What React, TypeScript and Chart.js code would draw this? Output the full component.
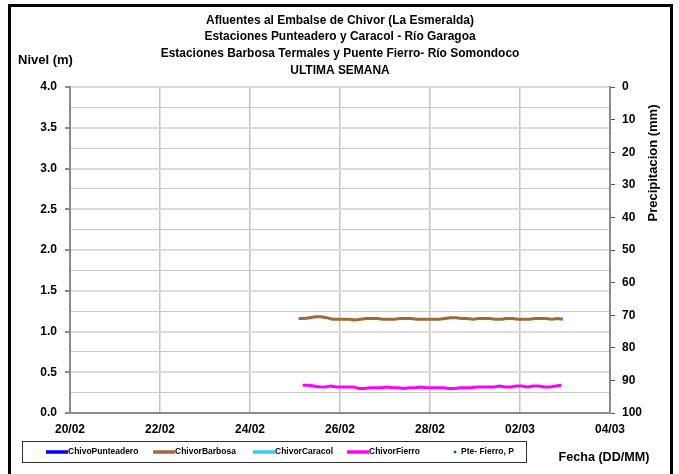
import React, { useEffect, useRef } from "react";
import { Chart, registerables } from "chart.js";
Chart.register(...registerables);

// ---- data ----
const titleLines = [
  "Afluentes al Embalse de Chivor (La Esmeralda)",
  "Estaciones Punteadero y Caracol - Río Garagoa",
  "Estaciones Barbosa Termales y Puente Fierro- Río Somondoco",
  "ULTIMA SEMANA",
];
const dateLabels = ["20/02", "22/02", "24/02", "26/02", "28/02", "02/03", "04/03"];
const nivelTickLabels = ["0.0", "0.5", "1.0", "1.5", "2.0", "2.5", "3.0", "3.5", "4.0"];
const precipTickLabels = ["0", "10", "20", "30", "40", "50", "60", "70", "80", "90", "100"];
const seriesNames = ["ChivoPunteadero", "ChivorBarbosa", "ChivorCaracol", "ChivorFierro", "Pte- Fierro, P"];
const seriesColors = ["#0000ff", "#a0693a", "#33ccff", "#ff00ff", "#008000"];

// days after 20/02 00:00, sampled every 3 hours
const barbosaStartDay = 5.08;
const fierroStartDay = 5.17;
const sampleStepDays = 0.125;
const barbosaValues = [
  1.16, 1.16, 1.17, 1.18, 1.18, 1.17, 1.15, 1.15, 1.15, 1.15, 1.14, 1.15,
  1.16, 1.16, 1.16, 1.15, 1.15, 1.15, 1.16, 1.16, 1.16, 1.15, 1.15, 1.15,
  1.15, 1.15, 1.16, 1.17, 1.17, 1.16, 1.16, 1.15, 1.16, 1.16, 1.16, 1.15,
  1.15, 1.16, 1.16, 1.15, 1.15, 1.15, 1.16, 1.16, 1.16, 1.15, 1.16, 1.15,
];
const fierroValues = [
  0.34, 0.34, 0.33, 0.32, 0.32, 0.33, 0.32, 0.32, 0.32, 0.32, 0.30, 0.30,
  0.31, 0.31, 0.31, 0.32, 0.31, 0.31, 0.30, 0.31, 0.31, 0.32, 0.31, 0.31,
  0.31, 0.31, 0.30, 0.30, 0.31, 0.31, 0.31, 0.32, 0.32, 0.32, 0.32, 0.33,
  0.32, 0.32, 0.33, 0.33, 0.32, 0.33, 0.33, 0.32, 0.32, 0.33, 0.34,
];
const punteaderoValues: number[] = [];
const caracolValues: number[] = [];
const pteFierroPrecip: number[] = [];

const toPoints = (start: number, vals: number[]) =>
  vals.map((y, i) => ({ x: start + i * sampleStepDays, y }));

const FONT = "'Liberation Sans', Arial, sans-serif";

function squeezedText(ctx: CanvasRenderingContext2D, text: string, x: number, y: number, sx: number) {
  ctx.save();
  ctx.translate(x, y);
  ctx.scale(sx, 1);
  ctx.fillText(text, 0, 0);
  ctx.restore();
}

const decorPlugin = {
  id: "decor",
  afterDraw(chart: any) {
    const ctx = chart.ctx as CanvasRenderingContext2D;
    const area = chart.chartArea;
    ctx.save();
    ctx.fillStyle = "#000";
    // title
    ctx.font = `bold 13px ${FONT}`;
    ctx.textAlign = "center";
    ctx.textBaseline = "middle";
    const cx = 340;
    titleLines.forEach((t, i) => squeezedText(ctx, t, cx, 20 + i * 16.7, 0.92));
    // left axis title
    ctx.textAlign = "left";
    ctx.fillText("Nivel (m)", 18, 60);
    // right axis title (rotated, reading bottom to top)
    ctx.save();
    ctx.translate(653, 163);
    ctx.rotate(-Math.PI / 2);
    ctx.textAlign = "center";
    ctx.fillText("Precipitacion (mm)", 0, 0);
    ctx.restore();
    // x axis title
    ctx.textAlign = "center";
    squeezedText(ctx, "Fecha (DD/MM)", 604, 457, 0.97);
    // legend box
    const lx = 22, ly = 441, lw = 504, lh = 21;
    ctx.strokeStyle = "#333";
    ctx.lineWidth = 1;
    ctx.strokeRect(lx + 0.5, ly + 0.5, lw, lh);
    const cy = ly + lh / 2 + 0.5;
    const starts = [46, 153, 253, 347, 452];
    ctx.font = `bold 8.5px ${FONT}`;
    ctx.textAlign = "left";
    seriesNames.forEach((name, i) => {
      const sx = area.left - 70 + starts[i];
      ctx.strokeStyle = seriesColors[i];
      ctx.fillStyle = seriesColors[i];
      if (i < 4) {
        ctx.lineWidth = 3.5;
        ctx.beginPath();
        ctx.moveTo(sx, cy);
        ctx.lineTo(sx + 22, cy);
        ctx.stroke();
      } else {
        ctx.beginPath();
        ctx.arc(sx + 3, cy, 1.4, 0, Math.PI * 2);
        ctx.fill();
      }
      ctx.fillStyle = "#000";
      ctx.fillText(name, sx + (i < 4 ? 22 : 9), cy);
    });
    ctx.restore();
  },
};

export default function App() {
  const ref = useRef<HTMLCanvasElement>(null);
  useEffect(() => {
    if (!ref.current) return;
    const tickFont = { family: FONT, weight: "bold" as const, size: 12 };
    const chart = new Chart(ref.current, {
      type: "line",
      data: {
        datasets: [
          { label: seriesNames[0], data: toPoints(barbosaStartDay, punteaderoValues), borderColor: seriesColors[0], borderWidth: 3, pointRadius: 0, yAxisID: "y" },
          { label: seriesNames[1], data: toPoints(barbosaStartDay, barbosaValues), borderColor: seriesColors[1], borderWidth: 3, pointRadius: 0, yAxisID: "y" },
          { label: seriesNames[2], data: toPoints(barbosaStartDay, caracolValues), borderColor: seriesColors[2], borderWidth: 3, pointRadius: 0, yAxisID: "y" },
          { label: seriesNames[3], data: toPoints(fierroStartDay, fierroValues), borderColor: seriesColors[3], borderWidth: 3, pointRadius: 0, yAxisID: "y" },
          { label: seriesNames[4], data: toPoints(barbosaStartDay, pteFierroPrecip), borderColor: seriesColors[4], backgroundColor: seriesColors[4], showLine: false, pointRadius: 1.5, yAxisID: "y2" },
        ],
      },
      options: {
        animation: false,
        responsive: false,
        layout: { padding: { left: 10, right: 0, top: 87, bottom: 0 } },
        plugins: { legend: { display: false }, title: { display: false }, tooltip: { enabled: false } },
        scales: {
          x: {
            type: "linear",
            min: 0,
            max: 12,
            afterFit: (s: any) => { s.height = 61; },
            ticks: {
              stepSize: 2,
              font: tickFont,
              color: "#000",
              padding: 9,
              maxRotation: 0,
              callback: (_v: any, i: number) => dateLabels[i],
            },
            grid: { color: "#c4c4c4", lineWidth: 1.5, drawTicks: false },
            border: { color: "#8a8a8a", width: 2 },
          },
          y: {
            type: "linear",
            position: "left",
            min: 0,
            max: 4,
            afterFit: (s: any) => { s.width = 60; },
            ticks: {
              stepSize: 0.25,
              font: tickFont,
              color: "#000",
              padding: 8,
              autoSkip: false,
              callback: (_v: any, i: number) => (i % 2 === 0 ? nivelTickLabels[i / 2] : ""),
            },
            grid: {
              color: (c: any) => (c.index % 2 === 0 ? "#dcdcdc" : "#c8c8c8"),
              lineWidth: (c: any) => (c.index % 2 === 0 ? 2 : 1),
              tickColor: (c: any) => (c.index % 2 === 0 ? "#8a8a8a" : "rgba(0,0,0,0)"),
              tickLength: 5,
            },
            border: { color: "#8a8a8a", width: 2 },
          },
          y2: {
            type: "linear",
            position: "right",
            min: 0,
            max: 100,
            reverse: true,
            afterFit: (s: any) => { s.width = 69; },
            ticks: {
              stepSize: 10,
              font: tickFont,
              color: "#000",
              padding: 7,
              autoSkip: false,
              callback: (v: any) => precipTickLabels[Math.round(Number(v) / 10)],
            },
            grid: { drawOnChartArea: false, tickColor: "#555", tickLength: 5 },
            border: { color: "#8a8a8a", width: 2 },
          },
        },
      },
      plugins: [decorPlugin],
    } as any);
    return () => chart.destroy();
  }, []);
  return (
    <div style={{ position: "absolute", left: 0, top: 0, width: 679, height: 474, background: "#fff", overflow: "hidden" }}>
      <canvas ref={ref} width={679} height={474} style={{ position: "absolute", left: 0, top: 0 }} />
      <div style={{ position: "absolute", left: 8, top: 4, width: 665, height: 490, boxSizing: "border-box", border: "3px solid #000", pointerEvents: "none" }} />
    </div>
  );
}
